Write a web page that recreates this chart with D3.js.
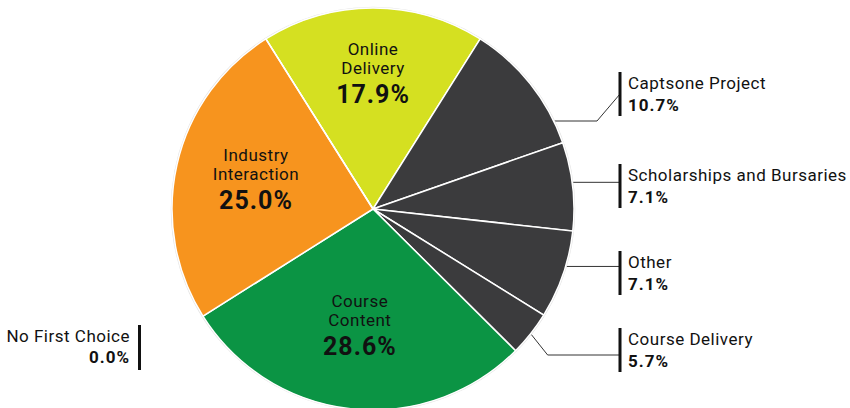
<!DOCTYPE html>
<html>
<head>
<meta charset="utf-8">
<script src="https://cdn.jsdelivr.net/npm/d3@7"></script>
<style>
  body { margin: 0; background: #fff; }
  text { font-family: Roboto, "Noto Sans", sans-serif; fill: #111; }
</style>
</head>
<body>
<script>
var width = 850;
var height = 408;

// data (slice sizes, and the percent printed on each label)
var categories = ["Online Delivery", "Captsone Project", "Scholarships and Bursaries", "Other",
                  "Course Delivery", "Course Content", "Industry Interaction", "No First Choice"];
var values = [17.9, 10.7, 7.1, 7.1, 3.6, 28.6, 25.0, 0.0];
var percentLabels = ["17.9%", "10.7%", "7.1%", "7.1%", "5.7%", "28.6%", "25.0%", "0.0%"];
var colors = ["#d5e021", "#3b3b3d", "#3b3b3d", "#3b3b3d", "#3b3b3d", "#0b9444", "#f7941e", "#3b3b3d"];

// labels drawn inside the slices (split into lines) and their radius
var insideLabels = {
    "Online Delivery": { lines: ["Online", "Delivery"], r: 133 },
    "Course Content": { lines: ["Course", "Content"], r: 120 },
    "Industry Interaction": { lines: ["Industry", "Interaction"], r: 120 }
};

// labels drawn outside with a leader line
var outsideLabels = [
    { name: "Captsone Project", barTop: 72, t: 0.83, shape: "hd", lineY: 121 },
    { name: "Scholarships and Bursaries", barTop: 164, t: 0.5, shape: "h" },
    { name: "Other", barTop: 251, t: 0.45, shape: "h" },
    { name: "Course Delivery", barTop: 328, t: 0.5, shape: "dh", lineY: 355 }
];

var cx = 373, cy = 209, radius = 201;
var barX = 620;

var svg = d3.select("body").append("svg")
    .attr("width", width)
    .attr("height", height);

var total = d3.sum(values);
var start = -Math.PI * values[0] / total;

var pie = d3.pie()
    .sort(null)
    .value(function(d) { return d; })
    .startAngle(start)
    .endAngle(start + 2 * Math.PI);

var arcs = pie(values);

var arc = d3.arc()
    .innerRadius(0)
    .outerRadius(radius);

function edgePoint(a) {
    return [cx + radius * Math.sin(a), cy - radius * Math.cos(a)];
}

// leader lines, drawn behind the pie
var leaders = svg.append("g");
outsideLabels.forEach(function(l) {
    var d = arcs[categories.indexOf(l.name)];
    var a = d.startAngle + (d.endAngle - d.startAngle) * l.t;
    var p = edgePoint(a);
    var barMid = l.barTop + 22;
    var pts;
    if (l.shape === "hd") {
        var ax = cx + Math.sqrt(radius * radius - Math.pow(l.lineY - cy, 2));
        pts = [[ax - 4, l.lineY], [barX - 23, l.lineY], [barX, barMid]];
    } else if (l.shape === "dh") {
        pts = [p, [p[0] + 17, l.lineY], [barX, l.lineY]];
    } else {
        pts = [[p[0] - 4, p[1] - 4], [barX, p[1] - 4]];
    }
    leaders.append("path")
        .attr("d", d3.line()(pts))
        .attr("fill", "none")
        .attr("stroke", "#333")
        .attr("stroke-width", 1);
});

var g = svg.append("g")
    .attr("transform", "translate(" + cx + "," + cy + ")");

g.append("circle")
    .attr("r", radius + 0.5)
    .attr("fill", "none")
    .attr("stroke", "#e2e2e2")
    .attr("stroke-width", 1.5);

g.selectAll("path.slice")
    .data(arcs)
    .enter()
    .append("path")
    .attr("class", "slice")
    .attr("d", arc)
    .attr("fill", function(d, i) { return colors[i]; })
    .attr("stroke", "#fff")
    .attr("stroke-width", 1.5);

// labels inside the slices
arcs.forEach(function(d, i) {
    var lab = insideLabels[categories[i]];
    if (!lab) return;
    var c = d3.arc().innerRadius(lab.r).outerRadius(lab.r).centroid(d);
    var t = g.append("text")
        .attr("text-anchor", "middle")
        .attr("transform", "translate(" + c[0] + "," + c[1] + ")");
    t.append("tspan").attr("x", 0).attr("y", -21)
        .style("font-size", "17px").style("letter-spacing", "0.5px").text(lab.lines[0]);
    t.append("tspan").attr("x", 0).attr("y", -2)
        .style("font-size", "17px").style("letter-spacing", "0.5px").text(lab.lines[1]);
    t.append("tspan").attr("x", 0).attr("y", 27)
        .style("font-size", "25px").style("letter-spacing", "1px")
        .style("font-weight", "bold").text(percentLabels[i]);
});

// labels on the right
outsideLabels.forEach(function(l) {
    var i = categories.indexOf(l.name);
    svg.append("rect")
        .attr("x", barX - 1.5)
        .attr("y", l.barTop)
        .attr("width", 3)
        .attr("height", 44)
        .attr("fill", "#111");
    svg.append("text")
        .attr("x", barX + 8)
        .attr("y", l.barTop + 17)
        .style("font-size", "17px")
        .style("letter-spacing", "0.5px")
        .text(categories[i]);
    svg.append("text")
        .attr("x", barX + 8)
        .attr("y", l.barTop + 39)
        .style("font-size", "17px")
        .style("letter-spacing", "1px")
        .style("font-weight", "bold")
        .text(percentLabels[i]);
});

// the zero slice, labelled on the left
var zi = categories.indexOf("No First Choice");
svg.append("rect")
    .attr("x", 138)
    .attr("y", 325)
    .attr("width", 3)
    .attr("height", 45)
    .attr("fill", "#111");
svg.append("text")
    .attr("x", 130)
    .attr("y", 342)
    .attr("text-anchor", "end")
    .style("font-size", "17px")
    .style("letter-spacing", "0.5px")
    .text(categories[zi]);
svg.append("text")
    .attr("x", 130)
    .attr("y", 363)
    .attr("text-anchor", "end")
    .style("font-size", "17px")
    .style("letter-spacing", "1px")
    .style("font-weight", "bold")
    .text(percentLabels[zi]);
</script>
</body>
</html>
